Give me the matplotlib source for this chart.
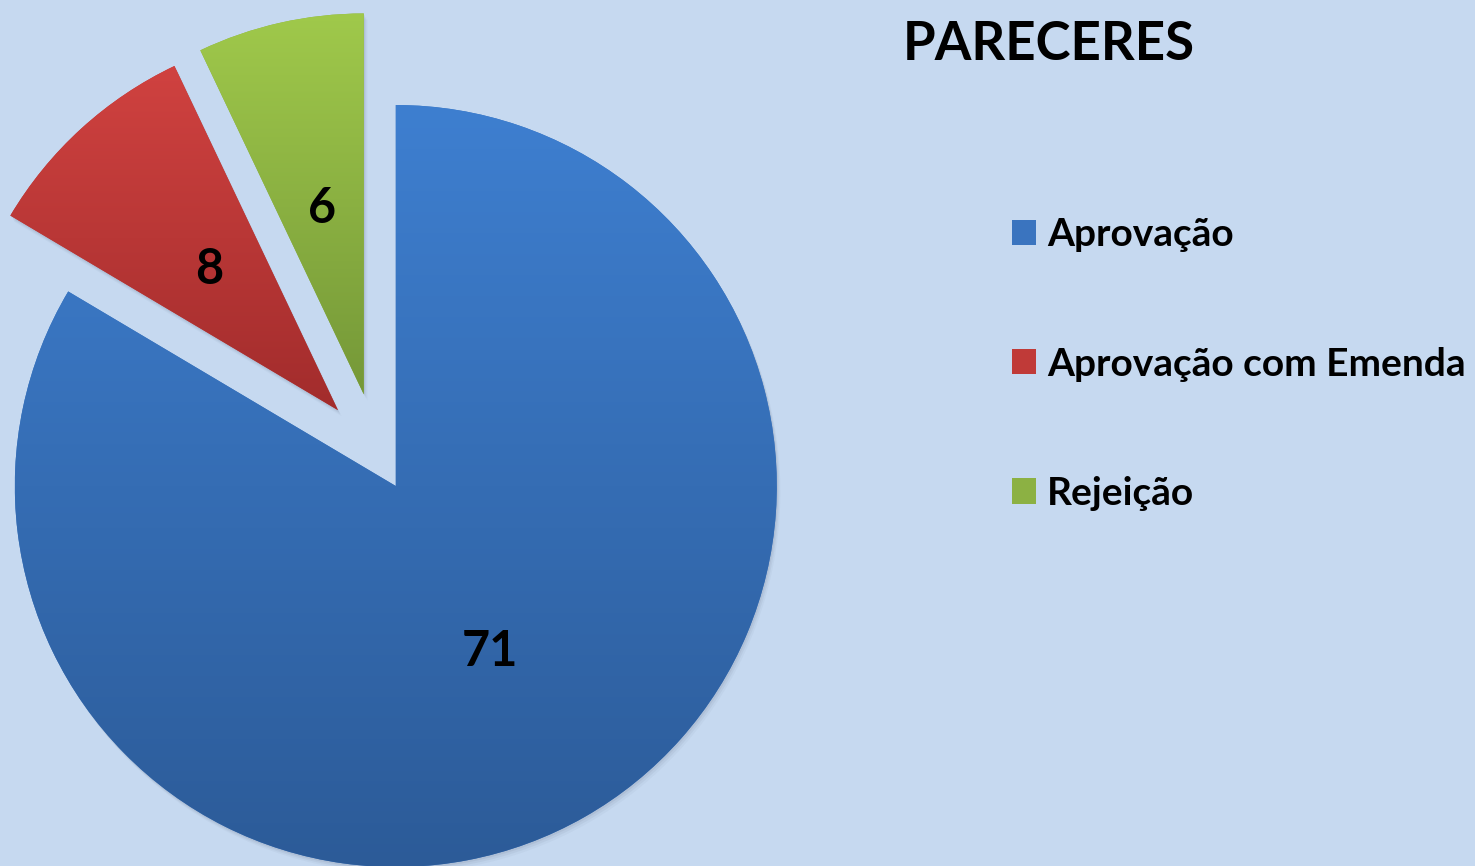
import numpy as np
import matplotlib
matplotlib.use("Agg")
import matplotlib.pyplot as plt
from matplotlib.colors import LinearSegmentedColormap

# Data
categories = ["Aprovação", "Aprovação com Emenda", "Rejeição"]
values = [71, 8, 6]
title = "PARECERES"

# Style
bg = "#c6d9f0"
top_colors = ["#3e7fd0", "#d04240", "#a0c94b"]
bottom_colors = ["#2c5b98", "#a22c2c", "#759838"]
mid_colors = ["#3a74bf", "#c03a38", "#8cb143"]
explode = [38, 58, 60]          # pixel offsets (data units = pixels)
W, H = 1475, 866
center = (377, H - 453)
radius = 381
font = "Lato"

fig = plt.figure(figsize=(W / 100, H / 100), dpi=100)
fig.patch.set_facecolor(bg)
ax = fig.add_axes([0, 0, 1, 1])
ax.set_facecolor(bg)

total = sum(values)
wedges, texts, autotexts = ax.pie(
    values, colors=mid_colors, startangle=90, counterclock=False,
    explode=explode, center=center, radius=radius,
    autopct=lambda p: "%d" % round(p * total / 100.0), pctdistance=0.5,
    textprops=dict(fontsize=35, fontweight="bold", family=font, color="black"),
    wedgeprops=dict(linewidth=0),
)
ax.set_aspect("equal")
ax.axis("off")

# soft shadow + vertical gradient per slice
for i, w in enumerate(wedges):
    cx, cy = w.center
    for k, a in [(6, 0.04), (4, 0.06), (2, 0.08)]:
        sh = matplotlib.patches.Wedge((cx + k * 0.6, cy - k), w.r, w.theta1, w.theta2,
                                      facecolor="#3a4a60", alpha=a, linewidth=0, zorder=0.5)
        ax.add_patch(sh)
    w.set_zorder(1)
    bb = w.get_path().get_extents(w.get_patch_transform())
    cmap = LinearSegmentedColormap.from_list("g%d" % i, [bottom_colors[i], top_colors[i]])
    grad = np.linspace(0, 1, 256).reshape(-1, 1)
    im = ax.imshow(grad, cmap=cmap, origin="lower", aspect="auto",
                   extent=(bb.x0, bb.x1, bb.y0, bb.y1), zorder=1.5)
    im.set_clip_path(w)

for t in autotexts:
    t.set_zorder(3)

ax.set_xlim(0, W)
ax.set_ylim(0, H)

ax.text(903, H - 60, title, ha="left", va="baseline", fontsize=38,
        fontweight="bold", family=font, color="black")

handles = [matplotlib.patches.Patch(facecolor=c) for c in mid_colors]
leg = ax.legend(handles, categories, loc="center left",
                bbox_to_anchor=(1012, H - 364), bbox_transform=ax.transData,
                frameon=False, borderpad=0, borderaxespad=0,
                prop=dict(family=font, weight="bold", size=28),
                handlelength=0.62, handleheight=0.62, handletextpad=0.28,
                labelspacing=2.42)

fig.savefig("out.png", dpi=100, facecolor=bg)
